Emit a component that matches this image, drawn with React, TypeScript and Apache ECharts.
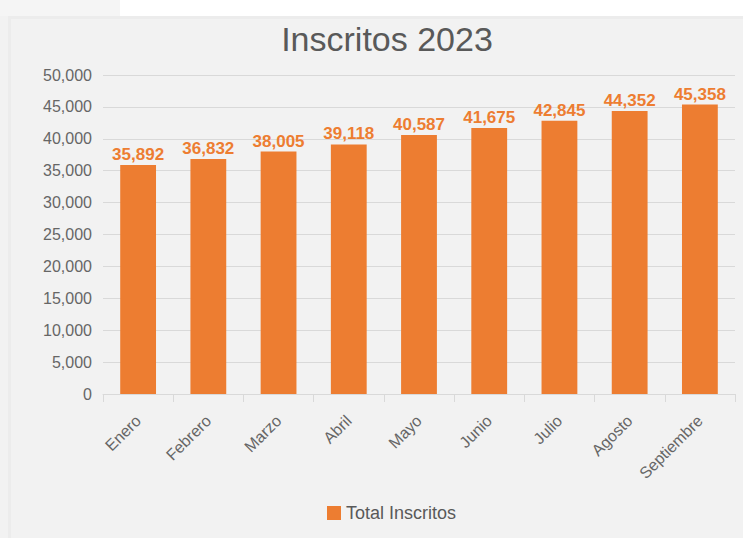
import React, { useEffect, useRef } from "react";
import * as echarts from "echarts";

const categories = ["Enero", "Febrero", "Marzo", "Abril", "Mayo", "Junio", "Julio", "Agosto", "Septiembre"];
const totalInscritos = [35892, 36832, 38005, 39118, 40587, 41675, 42845, 44352, 45358];
const seriesName = "Total Inscritos";
const titleText = "Inscritos 2023";

export default function App() {
  const ref = useRef<HTMLDivElement>(null);
  useEffect(() => {
    if (!ref.current) return;
    const chart = echarts.init(ref.current, undefined, { renderer: "svg" });
    const font = "'Liberation Sans', Arial, sans-serif";
    chart.setOption({
      animation: false,
      backgroundColor: "#f2f2f2",
      textStyle: { fontFamily: font },
      graphic: [
        { type: "rect", shape: { x: 120, y: 0, width: 623, height: 16 }, style: { fill: "#ffffff" }, z: -1 },
        { type: "rect", shape: { x: 0, y: 0, width: 120, height: 16 }, style: { fill: "#f5f5f5" }, z: -1 },
        { type: "rect", shape: { x: 8, y: 16, width: 735, height: 3 }, style: { fill: "#ececec" }, z: -1 },
        { type: "rect", shape: { x: 8, y: 16, width: 3, height: 522 }, style: { fill: "#ececec" }, z: -1 },
      ],
      title: {
        text: titleText,
        left: 382,
        textAlign: "center",
        top: 17,
        textStyle: { fontSize: 34, fontWeight: "normal", color: "#595959", fontFamily: font },
      },
      legend: {
        bottom: 11,
        left: 322,
        itemWidth: 14,
        itemHeight: 14,
        itemGap: 6,
        icon: "rect",
        textStyle: { fontSize: 18, color: "#595959", fontFamily: font },
        data: [seriesName],
      },
      grid: { left: 103, right: 8, top: 75, bottom: 144, containLabel: false },
      xAxis: {
        type: "category",
        data: categories,
        axisLine: { lineStyle: { color: "#d9d9d9" } },
        axisTick: { show: true, length: 8, lineStyle: { color: "#d9d9d9" } },
        axisLabel: { rotate: 45, color: "#666666", fontSize: 16, margin: 24, fontFamily: font },
      },
      yAxis: {
        type: "value",
        min: 0,
        max: 50000,
        interval: 5000,
        axisLine: { show: false },
        axisTick: { show: false },
        splitLine: { lineStyle: { color: "#d9d9d9" } },
        axisLabel: {
          color: "#666666",
          fontSize: 16,
          margin: 11,
          fontFamily: font,
          formatter: (v: number) => v.toLocaleString("en-US"),
        },
      },
      series: [
        {
          name: seriesName,
          type: "bar",
          data: totalInscritos,
          barWidth: "51%",
          itemStyle: { color: "#ED7D31" },
          label: {
            show: true,
            position: "top",
            distance: 2,
            color: "#ED7D31",
            fontSize: 17,
            fontWeight: "bold",
            fontFamily: font,
            formatter: (p: any) => Number(p.value).toLocaleString("en-US"),
          },
        },
      ],
    });
    return () => chart.dispose();
  }, []);
  return (
    <div
      ref={ref}
      style={{ position: "absolute", left: 0, top: 0, width: 743, height: 538 }}
    />
  );
}
